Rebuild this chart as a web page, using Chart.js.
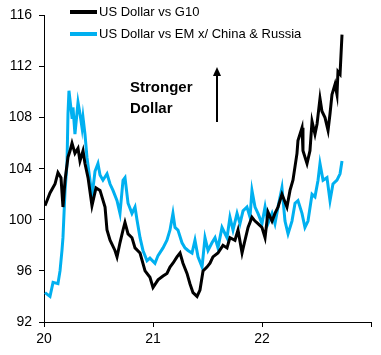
<!DOCTYPE html>
<html>
<head>
<meta charset="utf-8">
<script src="https://cdn.jsdelivr.net/npm/chart.js@4"></script>
<style>
  html, body { margin: 0; padding: 0; background: #fff; }
  #wrap { width: 381px; height: 355px; position: relative; }
</style>
</head>
<body>
<div id="wrap"><canvas id="c" width="381" height="355"></canvas></div>
<script>
// Decimal-year dates and index values
const g10Dates = [2020.009,2020.055,2020.101,2020.128,2020.156,2020.174,2020.193,2020.220,2020.239,2020.257,2020.284,2020.312,2020.330,2020.358,2020.376,2020.404,2020.440,2020.477,2020.514,2020.560,2020.578,2020.606,2020.651,2020.670,2020.697,2020.725,2020.743,2020.771,2020.807,2020.835,2020.881,2020.927,2020.972,2021.000,2021.046,2021.092,2021.128,2021.156,2021.183,2021.220,2021.248,2021.275,2021.312,2021.339,2021.367,2021.404,2021.431,2021.459,2021.495,2021.523,2021.550,2021.596,2021.642,2021.679,2021.706,2021.752,2021.780,2021.817,2021.844,2021.872,2021.908,2021.936,2021.963,2022.000,2022.028,2022.055,2022.092,2022.119,2022.147,2022.183,2022.229,2022.257,2022.284,2022.321,2022.330,2022.367,2022.376,2022.413,2022.440,2022.459,2022.486,2022.505,2022.532,2022.550,2022.578,2022.606,2022.624,2022.642,2022.670,2022.688,2022.697,2022.716,2022.734];
const g10Values = [101.1,102.1,102.8,103.7,103.3,101.0,103.1,104.9,105.4,106.0,105.2,105.6,104.6,105.4,104.4,103.3,101.1,102.5,102.3,101.0,99.2,98.4,97.6,97.1,98.2,99.2,99.8,98.9,98.6,97.8,97.4,96.0,95.5,94.7,95.3,95.6,95.8,96.3,96.6,97.1,97.4,96.6,95.8,95.0,94.3,94.0,94.5,96.0,96.3,96.6,97.1,97.4,98.0,97.8,98.6,98.4,99.2,97.4,98.4,99.4,100.2,99.9,99.7,99.4,98.6,100.6,99.9,100.5,101.0,102.0,101.0,102.3,103.1,105.2,106.2,107.2,105.4,104.4,105.4,107.7,106.7,107.5,109.5,108.5,108.0,107.0,108.3,109.8,110.6,109.8,111.6,111.4,114.5];

const emDates = [2020.009,2020.055,2020.083,2020.128,2020.147,2020.165,2020.174,2020.193,2020.211,2020.220,2020.229,2020.257,2020.266,2020.284,2020.312,2020.330,2020.349,2020.358,2020.376,2020.394,2020.422,2020.440,2020.468,2020.495,2020.514,2020.541,2020.578,2020.606,2020.633,2020.670,2020.697,2020.725,2020.743,2020.771,2020.807,2020.835,2020.853,2020.881,2020.908,2020.945,2020.972,2021.018,2021.046,2021.092,2021.128,2021.156,2021.183,2021.202,2021.229,2021.266,2021.294,2021.321,2021.358,2021.385,2021.413,2021.450,2021.477,2021.505,2021.541,2021.569,2021.596,2021.633,2021.679,2021.706,2021.734,2021.771,2021.798,2021.826,2021.862,2021.890,2021.908,2021.936,2021.963,2022.000,2022.028,2022.055,2022.092,2022.119,2022.147,2022.183,2022.211,2022.239,2022.275,2022.303,2022.330,2022.367,2022.394,2022.422,2022.459,2022.486,2022.514,2022.532,2022.560,2022.596,2022.624,2022.651,2022.688,2022.716,2022.734];
const emValues = [94.3,94.0,95.1,95.0,96.0,97.6,98.6,102.3,104.4,108.3,110.1,108.0,108.8,106.7,109.2,108.3,107.2,108.0,106.7,104.9,103.1,101.8,103.8,104.4,103.5,103.1,103.6,102.8,102.3,101.5,100.5,103.1,103.3,101.3,100.5,101.0,100.0,98.6,97.6,96.8,97.0,96.6,97.2,97.8,98.4,99.2,100.5,99.4,99.2,98.2,97.8,97.6,97.4,98.4,97.1,96.3,98.6,97.6,98.2,98.6,97.8,99.4,98.6,100.2,99.2,100.5,99.7,100.7,101.0,100.2,102.3,101.0,100.5,99.7,101.0,99.7,100.5,99.7,101.0,102.5,99.9,98.9,99.9,101.3,101.5,100.5,99.4,99.9,102.0,101.8,103.1,104.4,103.1,103.3,101.5,102.8,103.1,103.6,104.6];

const seriesNames = ['US Dollar vs G10', 'US Dollar vs EM x/ China & Russia'];
const seriesColors = ['#000000', '#00B0F0'];
const yTicks = [92, 96, 100, 104, 108, 112, 116];
const xTickYears = [2020, 2021, 2022, 2023];
const annotationLines = ['Stronger', 'Dollar'];

const FONT = '"Liberation Sans", Arial, sans-serif';

const overlay = {
  id: 'overlay',
  afterDraw(chart) {
    const ctx = chart.ctx;
    const a = chart.chartArea;
    ctx.save();
    // legend
    const ly = [12, 34];
    seriesNames.forEach((name, i) => {
      ctx.strokeStyle = seriesColors[i];
      ctx.lineWidth = 4;
      ctx.beginPath();
      ctx.moveTo(a.left + 26, ly[i]);
      ctx.lineTo(a.left + 53, ly[i]);
      ctx.stroke();
      ctx.fillStyle = '#000';
      ctx.font = '13px ' + FONT;
      ctx.textBaseline = 'middle';
      ctx.textAlign = 'left';
      ctx.fillText(name, a.left + 55, ly[i] + 0.5);
    });
    // annotation text
    ctx.font = 'bold 15px ' + FONT;
    ctx.textBaseline = 'alphabetic';
    ctx.fillText(annotationLines[0], 130, 92);
    ctx.fillText(annotationLines[1], 130, 113);
    // arrow
    const ax = 217;
    ctx.strokeStyle = '#000';
    ctx.lineWidth = 2;
    ctx.beginPath();
    ctx.moveTo(ax, 122);
    ctx.lineTo(ax, 75);
    ctx.stroke();
    ctx.fillStyle = '#000';
    ctx.beginPath();
    ctx.moveTo(ax, 67);
    ctx.lineTo(ax - 4, 76);
    ctx.lineTo(ax + 4, 76);
    ctx.closePath();
    ctx.fill();
    ctx.restore();
  }
};

new Chart(document.getElementById('c'), {
  type: 'line',
  data: {
    datasets: [
      {
        label: seriesNames[0],
        data: g10Dates.map((d, i) => ({ x: d, y: g10Values[i] })),
        borderColor: seriesColors[0],
        borderWidth: 3,
        pointRadius: 0,
        tension: 0,
        fill: false
      },
      {
        label: seriesNames[1],
        data: emDates.map((d, i) => ({ x: d, y: emValues[i] })),
        borderColor: seriesColors[1],
        borderWidth: 3,
        pointRadius: 0,
        tension: 0,
        fill: false
      }
    ]
  },
  options: {
    responsive: false,
    animation: false,
    devicePixelRatio: 1,
    layout: { padding: { top: 14, right: 10, left: 0, bottom: 0 } },
    plugins: { legend: { display: false }, tooltip: { enabled: false } },
    scales: {
      x: {
        type: 'linear',
        min: xTickYears[0],
        max: xTickYears[xTickYears.length - 1],
        afterBuildTicks: (s) => { s.ticks = xTickYears.map(v => ({ value: v })); },
        ticks: {
          color: '#000',
          font: { family: FONT, size: 14 },
          padding: 4,
          maxRotation: 0,
          autoSkip: false,
          callback: (v) => v === xTickYears[xTickYears.length - 1] ? '' : String(v).slice(2)
        },
        grid: { display: true, drawOnChartArea: false, drawTicks: true, tickLength: 5, color: '#000' },
        border: { display: true, color: '#000', width: 1 },
        afterFit: (s) => { s.height = 33; }
      },
      y: {
        min: 92,
        max: 116,
        afterBuildTicks: (s) => { s.ticks = yTicks.map(v => ({ value: v })); },
        ticks: {
          color: '#000',
          font: { family: FONT, size: 14 },
          padding: 7,
          autoSkip: false
        },
        grid: { display: true, drawOnChartArea: false, drawTicks: true, tickLength: 5, color: '#000' },
        border: { display: true, color: '#000', width: 1 },
        afterFit: (s) => { s.width = 44; }
      }
    }
  },
  plugins: [overlay]
});
</script>
</body>
</html>
